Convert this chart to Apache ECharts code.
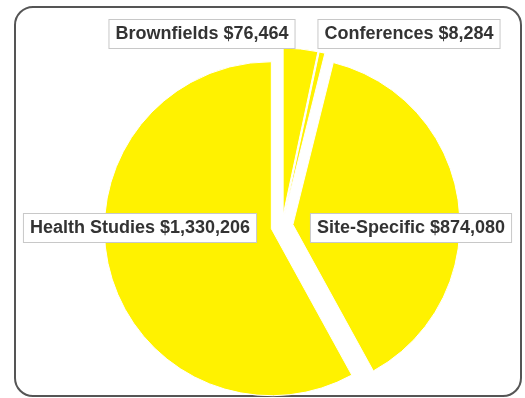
<!DOCTYPE html>
<html>
<head>
<meta charset="utf-8">
<script src="https://cdn.jsdelivr.net/npm/echarts@6/dist/echarts.min.js"></script>
<style>
  html, body { margin: 0; padding: 0; background: #fff; }
  #chart-box { width: 525px; height: 398px; }
</style>
</head>
<body>
<div id="chart-box"></div>
<script>
const categories = ['Brownfields', 'Conferences', 'Site-Specific', 'Health Studies'];
const amounts = [76464, 8284, 874080, 1330206];
const amountText = ['$76,464', '$8,284', '$874,080', '$1,330,206'];

// label box centres, same order as categories
const labelPos = [[202, 34], [409, 34], [411, 228], [140, 228]];

function init(){
    const element = document.getElementById("chart-box");
    const instance = echarts.init(element);

    const pieData = categories.map(function(name, i){
        return { name: name, value: amounts[i], selected: true };
    });

    // callout boxes
    const labelBoxes = categories.map(function(name, i){
        return {
            type: 'text',
            x: labelPos[i][0],
            y: labelPos[i][1],
            z: 10,
            style: {
                text: name + ' ' + amountText[i],
                font: 'bold 18px "Liberation Sans", Arial, sans-serif',
                fill: '#333',
                align: 'center',
                verticalAlign: 'middle',
                backgroundColor: '#fff',
                borderColor: '#c8c8c8',
                borderWidth: 1,
                padding: [5, 6]
            }
        };
    });

    let option = {
        animation: false,
        backgroundColor: '#fff',
        graphic: [{
            type: 'rect',
            shape: { x: 15, y: 7, width: 506, height: 389, r: 18 },
            style: { fill: 'none', stroke: '#555', lineWidth: 2 },
            z: 0
        }].concat(labelBoxes),
        series: [{
            type: 'pie',
            center: [282, 226],
            radius: 167,
            startAngle: 90,
            clockwise: true,
            selectedMode: 'multiple',
            selectedOffset: 11,
            minAngle: 2,
            itemStyle: {
                color: '#fff200',
                borderColor: '#fff',
                borderWidth: 1
            },
            emphasis: { disabled: true },
            label: { show: false },
            labelLine: { show: false },
            data: pieData
        }]
    };

    instance && instance.setOption(option);

    window.onresize = function(){
        instance.resize();
    };
}
init();
</script>
</body>
</html>
